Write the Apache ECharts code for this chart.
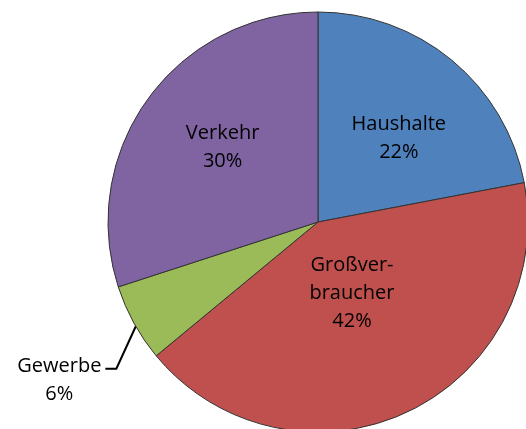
<!doctype html>
<html>
<head>
<meta charset="utf-8">
<script src="https://cdn.jsdelivr.net/npm/echarts@6/dist/echarts.min.js"></script>
<style>
  html, body { margin: 0; padding: 0; background: #fff; }
  #main { width: 526px; height: 429px; }
</style>
</head>
<body>
<div id="main"></div>
<script>
  var categories = ['Haushalte', 'Großverbraucher', 'Gewerbe', 'Verkehr'];
  var labelTexts = ['Haushalte', 'Großver-\nbraucher', 'Gewerbe', 'Verkehr'];
  var shares = [22, 42, 6, 30];
  var colors = ['#4F81BD', '#C0504D', '#9BBB59', '#8064A2'];

  // nudge the inside labels to where the original has them
  var labelShift = [[12, 0], [-12, -26], [0, 0], [-8, -11]];

  var cx = 318, cy = 222, r = 210;

  var chart = echarts.init(document.getElementById('main'));

  var data = categories.map(function (name, i) {
    var item = {
      name: name,
      value: shares[i],
      itemStyle: { color: colors[i] },
      label: { formatter: labelTexts[i] + '\n' + shares[i] + '%' }
    };
    if (name === 'Gewerbe') {
      item.label = {
        position: 'outside',
        formatter: labelTexts[i] + '\n' + shares[i] + '%'
      };
      item.labelLine = { show: true, length: 30, length2: 11 };
    }
    return item;
  });

  // middle angle of a slice, clockwise from 12 o'clock
  function midAngle(idx) {
    var total = shares.reduce(function (a, b) { return a + b; }, 0);
    var before = 0;
    for (var k = 0; k < idx; k++) before += shares[k];
    return (before + shares[idx] / 2) / total * Math.PI * 2;
  }

  var option = {
    animation: false,
    series: [{
      type: 'pie',
      center: [cx, cy],
      radius: r,
      startAngle: 90,
      clockwise: true,
      avoidLabelOverlap: false,
      itemStyle: { borderColor: '#333', borderWidth: 1 },
      label: {
        show: true,
        position: 'inside',
        color: '#000',
        fontSize: 20,
        lineHeight: 28,
        fontFamily: 'Open Sans',
        align: 'center'
      },
      labelLine: {
        show: false,
        lineStyle: { color: '#000', width: 2 }
      },
      labelLayout: function (params) {
        var i = params.dataIndex;
        if (categories[i] === 'Gewerbe') {
          var a = midAngle(i);
          var ex = cx + (r - 5) * Math.sin(a);
          var ey = cy - (r - 5) * Math.cos(a);
          var bx = ex - 22, by = ey + 48;
          var tx = bx - 11;
          var w = params.labelRect.width;
          return {
            x: tx - 4 - w / 2,
            y: by - 16,
            align: 'center',
            verticalAlign: 'top',
            labelLinePoints: [[ex, ey], [bx, by], [tx, by]]
          };
        }
        var s = labelShift[i];
        return { dx: s[0], dy: s[1] };
      },
      emphasis: { disabled: true },
      data: data
    }]
  };

  chart.setOption(option);
</script>
</body>
</html>
